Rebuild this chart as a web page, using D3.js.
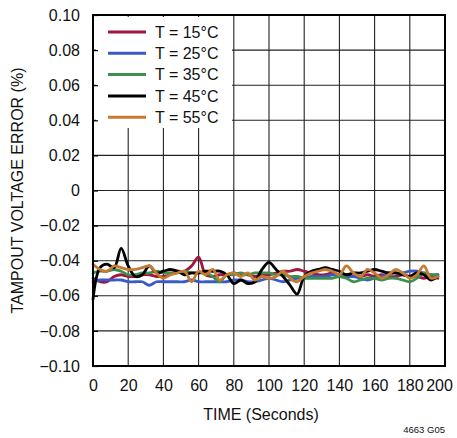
<!DOCTYPE html>
<html>
<head>
<meta charset="utf-8">
<script src="https://cdn.jsdelivr.net/npm/d3@7"></script>
<style>
  body { margin: 0; background: #fff; }
  svg { display: block; font-family: "Liberation Sans", Arial, sans-serif; }
</style>
</head>
<body>
<div id="chart"></div>
<script>
// time samples (seconds)
var time = d3.range(0, 197, 4);

var seriesNames = ['T = 15°C', 'T = 25°C', 'T = 35°C', 'T = 45°C', 'T = 55°C'];
var seriesColors = ['#a0173f', '#3a5bc3', '#3b8f4f', '#000000', '#c77a30'];

var t15 = [-0.050, -0.052, -0.052, -0.049, -0.048, -0.049, -0.049, -0.048, -0.048, -0.049,
           -0.049, -0.048, -0.046, -0.046, -0.043, -0.038, -0.048, -0.049, -0.048, -0.048,
           -0.047, -0.048, -0.048, -0.049, -0.048, -0.048, -0.047, -0.046, -0.046, -0.045,
           -0.046, -0.047, -0.048, -0.048, -0.047, -0.048, -0.048, -0.049, -0.049, -0.048,
           -0.049, -0.048, -0.049, -0.049, -0.048, -0.049, -0.049, -0.050, -0.049, -0.050];
var t25 = [-0.052, -0.051, -0.051, -0.051, -0.051, -0.052, -0.052, -0.052, -0.054, -0.052,
           -0.052, -0.052, -0.052, -0.052, -0.051, -0.052, -0.052, -0.052, -0.052, -0.052,
           -0.051, -0.051, -0.052, -0.052, -0.051, -0.050, -0.051, -0.052, -0.051, -0.050,
           -0.050, -0.049, -0.049, -0.049, -0.048, -0.048, -0.049, -0.049, -0.050, -0.051,
           -0.050, -0.049, -0.047, -0.047, -0.047, -0.046, -0.046, -0.047, -0.048, -0.048];
var t35 = [-0.047, -0.046, -0.046, -0.045, -0.046, -0.048, -0.048, -0.047, -0.047, -0.046,
           -0.047, -0.047, -0.047, -0.046, -0.047, -0.047, -0.047, -0.049, -0.052, -0.048,
           -0.048, -0.047, -0.048, -0.047, -0.047, -0.047, -0.048, -0.048, -0.049, -0.049,
           -0.050, -0.050, -0.050, -0.050, -0.050, -0.049, -0.050, -0.052, -0.051, -0.050,
           -0.050, -0.051, -0.050, -0.050, -0.051, -0.052, -0.050, -0.047, -0.048, -0.048];
var t45 = [-0.062, -0.044, -0.042, -0.044, -0.033, -0.043, -0.049, -0.048, -0.043, -0.047,
           -0.046, -0.045, -0.046, -0.048, -0.047, -0.047, -0.046, -0.046, -0.046, -0.048,
           -0.053, -0.051, -0.053, -0.052, -0.045, -0.041, -0.045, -0.049, -0.054, -0.059,
           -0.049, -0.046, -0.045, -0.044, -0.045, -0.046, -0.048, -0.047, -0.047, -0.046,
           -0.045, -0.046, -0.047, -0.047, -0.048, -0.049, -0.047, -0.048, -0.051, -0.049];
var t55 = [-0.042, -0.045, -0.046, -0.043, -0.044, -0.045, -0.045, -0.044, -0.043, -0.047,
           -0.050, -0.048, -0.047, -0.046, -0.052, -0.046, -0.048, -0.045, -0.051, -0.048,
           -0.047, -0.049, -0.047, -0.051, -0.049, -0.050, -0.049, -0.046, -0.050, -0.052,
           -0.049, -0.047, -0.046, -0.045, -0.046, -0.048, -0.043, -0.047, -0.049, -0.045,
           -0.047, -0.050, -0.048, -0.045, -0.047, -0.050, -0.048, -0.043, -0.050, -0.049];
var seriesValues = [t15, t25, t35, t45, t55];

var xTicks = [0, 20, 40, 60, 80, 100, 120, 140, 160, 180, 200];
var yTicks = [-0.10, -0.08, -0.06, -0.04, -0.02, 0, 0.02, 0.04, 0.06, 0.08, 0.10];

var width = 457, height = 438;
var margin = {top: 15, right: 12, bottom: 72, left: 93};
var w = width - margin.left - margin.right;
var h = height - margin.top - margin.bottom;

var svg = d3.select('#chart')
    .append('svg')
    .attr('width', width)
    .attr('height', height);

var g = svg.append('g')
    .attr('transform', 'translate(' + margin.left + ',' + margin.top + ')');

var x = d3.scaleLinear().domain([0, 200]).range([0, w]);
var y = d3.scaleLinear().domain([-0.10, 0.10]).range([h, 0]);

// grid
g.append('g')
    .selectAll('line')
    .data(xTicks.slice(1, -1))
    .enter()
    .append('line')
        .attr('x1', function(d) { return x(d); })
        .attr('x2', function(d) { return x(d); })
        .attr('y1', 0)
        .attr('y2', h)
        .attr('stroke', '#222')
        .attr('stroke-width', 1.1);

g.append('g')
    .selectAll('line')
    .data(yTicks.slice(1, -1))
    .enter()
    .append('line')
        .attr('x1', 0)
        .attr('x2', w)
        .attr('y1', function(d) { return y(d); })
        .attr('y2', function(d) { return y(d); })
        .attr('stroke', '#222')
        .attr('stroke-width', 1.1);

// legend background hides the grid behind it
var legend = g.append('g');
legend.append('rect')
    .attr('x', 3)
    .attr('y', 2)
    .attr('width', 136)
    .attr('height', 111)
    .attr('fill', '#fff');

// small inward ticks on the left axis
var fmt = d3.format('.2f');
var yAxis = d3.axisLeft(y)
    .tickValues(yTicks)
    .tickSizeInner(-5)
    .tickSizeOuter(0)
    .tickPadding(13)
    .tickFormat(function(d) { return Math.abs(d) < 1e-9 ? '0' : fmt(d); });

var xAxis = d3.axisBottom(x)
    .tickValues(xTicks)
    .tickSize(0)
    .tickPadding(14)
    .tickFormat(d3.format('d'));

var ya = g.append('g').call(yAxis);
var xa = g.append('g').attr('transform', 'translate(0,' + h + ')').call(xAxis);
[ya, xa].forEach(function(a) {
    a.select('.domain').remove();
    a.selectAll('line').attr('stroke', '#000').attr('stroke-width', 1.2);
    a.selectAll('text')
        .attr('fill', '#111')
        .style('font-size', '16px')
        .style('font-family', '"Liberation Sans", Arial, sans-serif');
});
// last x label pulled in so it stays on the page
xa.selectAll('text').filter(function(d) { return d === 200; }).attr('dx', -6);

// data lines
var line = d3.line()
    .x(function(d, i) { return x(time[i]); })
    .y(function(d) { return y(d); })
    .curve(d3.curveCatmullRom.alpha(0.5));

g.append('g')
    .selectAll('path')
    .data(seriesValues)
    .enter()
    .append('path')
        .attr('d', line)
        .attr('fill', 'none')
        .attr('stroke', function(d, i) { return seriesColors[i]; })
        .attr('stroke-width', 2.8)
        .attr('stroke-linejoin', 'round')
        .attr('stroke-linecap', 'round');

// border
g.append('rect')
    .attr('width', w)
    .attr('height', h)
    .attr('fill', 'none')
    .attr('stroke', '#000')
    .attr('stroke-width', 2);

// legend entries
var item = legend.selectAll('g.item')
    .data(seriesNames)
    .enter()
    .append('g')
        .attr('class', 'item')
        .attr('transform', function(d, i) { return 'translate(0,' + (17 + i * 21.3) + ')'; });

item.append('line')
    .attr('x1', 15)
    .attr('x2', 53)
    .attr('stroke', function(d, i) { return seriesColors[i]; })
    .attr('stroke-width', 3);

item.append('text')
    .attr('x', 62)
    .attr('dy', '0.36em')
    .style('font-size', '16px')
    .attr('fill', '#111')
    .text(function(d) { return d; });

// axis titles
svg.append('text')
    .attr('transform', 'translate(23,' + (margin.top + h / 2) + ') rotate(-90)')
    .attr('text-anchor', 'middle')
    .style('font-size', '16px')
    .attr('fill', '#111')
    .text('TAMPOUT VOLTAGE ERROR (%)');

svg.append('text')
    .attr('x', margin.left + w / 2 - 8)
    .attr('y', 420)
    .attr('text-anchor', 'middle')
    .style('font-size', '16px')
    .attr('fill', '#111')
    .text('TIME (Seconds)');

svg.append('text')
    .attr('x', 445)
    .attr('y', 433)
    .attr('text-anchor', 'end')
    .style('font-size', '9.5px')
    .attr('fill', '#111')
    .text('4663 G05');
</script>
</body>
</html>
